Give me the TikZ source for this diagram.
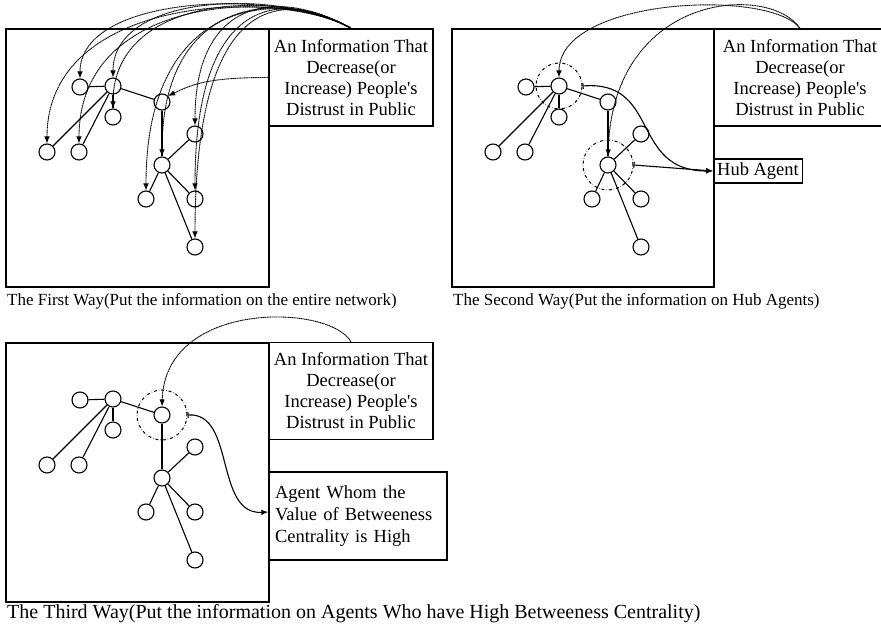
\documentclass[tikz,border=0pt]{standalone}
\usepackage{fontspec}
\setmainfont{Liberation Serif}
\usetikzlibrary{arrows.meta}

\tikzstyle{agent} = [draw, circle, minimum size=16pt, inner sep=0pt, line width=1.1pt]
\tikzstyle{tie} = [draw, line width=1.1pt]
\tikzstyle{spread} = [draw, dash pattern=on 1.3pt off 0.5pt, line width=0.9pt, -{Latex[length=7pt,width=5.5pt]}]
\tikzstyle{pick} = [draw, line width=1.1pt, {Bar[width=6pt]}-{Latex[length=7pt,width=5.5pt]}]
\tikzstyle{hubring} = [draw, dash dot, circle, line width=1pt, inner sep=0pt]
\tikzstyle{frame} = [draw, line width=1.3pt]
\tikzstyle{infobox} = [draw, line width=1.3pt, minimum width=164pt, minimum height=97pt, align=center, font=\fontsize{18.5}{21}\selectfont]
\tikzstyle{caption} = [anchor=west, inner sep=0pt]

\begin{document}
\begin{tikzpicture}[x=1pt,y=-1pt]
		\useasboundingbox (0,0) rectangle (881,629);
		
		%frames
		\draw[frame] (6,29) rectangle (269,287);
		\draw[frame] (452,29) rectangle (714,287);
		\draw[frame] (6,343) rectangle (269,602);
		
		%networks
		\foreach \p/\dx/\dy in {1/0/0, 2/446/0, 3/0/313}{
			\begin{scope}[shift={(\dx,\dy)}]
				\node[agent] (a\p) at (80,87) {};
				\node[agent] (b\p) at (113,86) {};
				\node[agent] (c\p) at (113,117) {};
				\node[agent] (d\p) at (47,152) {};
				\node[agent] (e\p) at (79,152) {};
				\node[agent] (f\p) at (162,102) {};
				\node[agent] (g\p) at (195,134) {};
				\node[agent] (h\p) at (162,165) {};
				\node[agent] (i\p) at (146,199) {};
				\node[agent] (j\p) at (195,199) {};
				\node[agent] (k\p) at (195,247) {};
			\end{scope}
			\draw[tie] (a\p) -- (b\p);
			\draw[tie] (b\p) -- (c\p);
			\draw[tie] (b\p) -- (d\p);
			\draw[tie] (b\p) -- (e\p);
			\draw[tie] (b\p) -- (f\p);
			\draw[tie] (f\p) -- (h\p);
			\draw[tie] (h\p) -- (g\p);
			\draw[tie] (h\p) -- (i\p);
			\draw[tie] (h\p) -- (j\p);
			\draw[tie] (h\p) -- (k\p);
		}
		
		%labels
		\node[infobox] (info1) at (351,77.5) {An Information That\\Decrease(or\\Increase) People\textquotesingle s\\Distrust in Public};
		\node[infobox, minimum width=172pt] (info2) at (800,77.5) {An Information That\\Decrease(or\\Increase) People\textquotesingle s\\Distrust in Public};
		\node[infobox] (info3) at (351,391) {An Information That\\Decrease(or\\Increase) People\textquotesingle s\\Distrust in Public};
		\node[draw, line width=1.3pt, inner sep=3.5pt, font=\fontsize{18.5}{21}\selectfont] (hubbox) at (758,171) {Hub Agent};
		\node[draw, line width=1.3pt, align=left, text width=166pt, inner xsep=6pt, minimum height=88pt, font=\fontsize{18.5}{22}\selectfont] (agentbox) at (358,516) {Agent Whom the\\Value of Betweeness\\Centrality is High};
		\node[caption, font=\fontsize{17}{19}\selectfont] (cap1) at (7,301) {The First Way(Put the information on the entire network)};
		\node[caption, font=\fontsize{17}{19}\selectfont] (cap2) at (453,301) {The Second Way(Put the information on Hub Agents)};
		\node[caption, font=\fontsize{20}{22}\selectfont] (cap3) at (7,614) {The Third Way(Put the information on Agents Who have High Betweeness Centrality)};
		
		%hubs
		\node[hubring, minimum size=46pt] (ring2b) at (b2) {};
		\node[hubring, minimum size=50pt] (ring2h) at (h2) {};
		\node[hubring, minimum size=50pt] (ring3f) at (f3) {};
		
		%arrows
		\draw[spread] (info1.north) .. controls +(-70,-40) and +(0,-150) .. (d1.north);
		\draw[spread] (info1.north) .. controls +(-70,-40) and +(0,-150) .. (e1.north);
		\draw[spread] (info1.north) .. controls +(-70,-40) and +(0,-85) .. (a1.north);
		\draw[spread] (info1.north) .. controls +(-70,-40) and +(0,-85) .. (b1.north);
		\draw[spread] (info1.north) .. controls +(-70,-40) and +(0,-115) .. (c1.north);
		\draw[spread] (info1.north) .. controls +(-70,-40) and +(0,-160) .. (h1.north);
		\draw[spread] (info1.north) .. controls +(-70,-40) and +(0,-195) .. (i1.north);
		\draw[spread] (info1.north) .. controls +(-70,-40) and +(0,-130) .. (g1.north);
		\draw[spread] (info1.north) .. controls +(-70,-40) and +(0,-195) .. (j1.north);
		\draw[spread] (info1.north) .. controls +(-70,-40) and +(0,-245) .. (k1.north);
		\draw[spread] (info1.west) .. controls +(-60,0) and +(25,-12) .. (f1.north east);
		
		\draw[spread] (info2.north) .. controls +(-30,-40) and +(0,-80) .. (b2.north);
		\draw[spread] (info2.north) .. controls +(-30,-45) and +(5,-165) .. (h2.north);
		\draw[pick] (ring2b.east) .. controls +(78,-6) and +(-83,0) .. (hubbox.west);
		\draw[pick] (ring2h.east) -- (hubbox.west);
		
		\draw[spread] (info3.north) .. controls +(-21,-38) and +(3,-107) .. (f3.north);
		\draw[pick] (ring3f.east) .. controls +(48,-3) and +(-54,3) .. ([yshift=4pt]agentbox.west);
		\end{tikzpicture}
\end{document}
